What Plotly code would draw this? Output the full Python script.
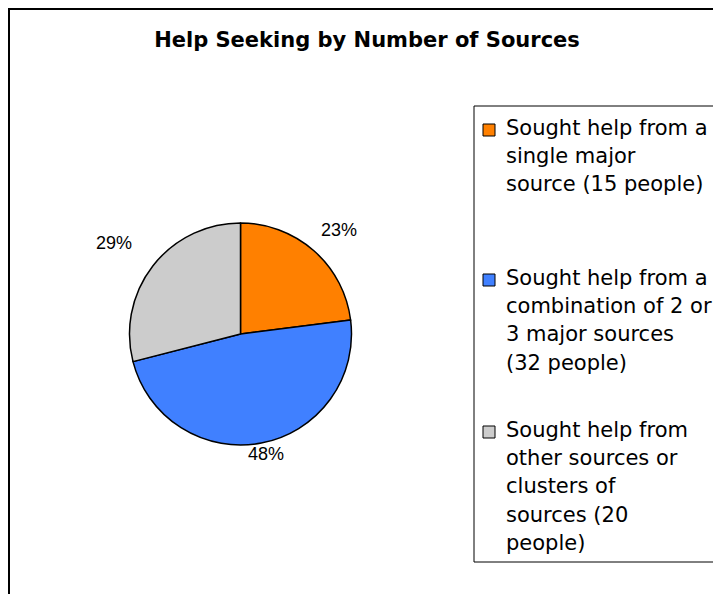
import math
import plotly.graph_objects as go

# ---- data ----
categories = [
    "Sought help from a single major source (15 people)",
    "Sought help from a combination of 2 or 3 major sources (32 people)",
    "Sought help from other sources or clusters of sources (20 people)",
]
people = [15, 32, 20]
percent = [23, 48, 29]
pct_labels = ["23%", "48%", "29%"]
legend_lines = [
    ["Sought help from a", "single major", "source (15 people)"],
    ["Sought help from a", "combination of 2 or", "3 major sources", "(32 people)"],
    ["Sought help from", "other sources or", "clusters of", "sources (20", "people)"],
]
colors = ["#FF8000", "#4080FF", "#CCCCCC"]
title = "Help Seeking by Number of Sources"

# ---- layout helpers (page body has an 8px margin) ----
OFF = 8
W, H = 721 - OFF, 594 - OFF


def px(x):
    return (x - OFF) / W


def py(y):
    return 1 - (y - OFF) / H


# pie geometry (reference pixels)
cx, cy, r = 240.5, 334.0, 111.0
label_gap = [33, 17, 43]   # distance of % labels beyond the pie edge
ell_x, ell_y = 1.05, 0.95  # label ring slightly wider than tall

fig = go.Figure()
fig.add_trace(go.Pie(
    labels=categories,
    values=percent,
    text=pct_labels,
    textinfo="none",
    marker=dict(colors=colors, line=dict(color="black", width=1.5)),
    sort=False,
    direction="clockwise",
    rotation=0,
    showlegend=False,
    hoverinfo="label+value",
    domain=dict(x=[px(cx - r), px(cx + r)], y=[py(cy + r), py(cy - r)]),
))

shapes = []
annotations = []

# percentage labels at each slice's mid-angle
total = sum(percent)
cum = 0
for i, v in enumerate(percent):
    theta = 2 * math.pi * (cum + v / 2) / total
    cum += v
    lx = cx + (r * ell_x + label_gap[i]) * math.sin(theta)
    ly = cy - (r * ell_y + label_gap[i]) * math.cos(theta)
    annotations.append(dict(
        text=pct_labels[i], xref="paper", yref="paper",
        x=px(lx), y=py(ly), xanchor="center", yanchor="middle",
        showarrow=False,
        font=dict(family="Liberation Sans, Arial", size=18, color="black"),
    ))

# outer frame (extends past the right and bottom edges)
shapes.append(dict(type="rect", xref="paper", yref="paper",
                   x0=px(9), x1=px(740), y0=py(610), y1=py(9),
                   line=dict(color="black", width=2)))

# legend box
shapes.append(dict(type="rect", xref="paper", yref="paper",
                   x0=px(474), x1=px(719), y0=py(562), y1=py(106),
                   line=dict(color="black", width=1), fillcolor="white"))

first_baselines = [135, 285, 437]
line_gap = 28.2
for i, lines in enumerate(legend_lines):
    b0 = first_baselines[i]
    shapes.append(dict(type="rect", xref="paper", yref="paper",
                       x0=px(483), x1=px(495), y0=py(b0 + 1), y1=py(b0 - 11),
                       line=dict(color="black", width=1), fillcolor=colors[i]))
    for j, txt in enumerate(lines):
        base = b0 + j * line_gap
        annotations.append(dict(
            text=txt, xref="paper", yref="paper",
            x=px(504), y=py(base - 7), xanchor="left", yanchor="middle",
            showarrow=False, align="left",
            font=dict(family="DejaVu Sans", size=21, color="black"),
        ))

fig.update_layout(
    width=W, height=H,
    margin=dict(l=0, r=0, t=0, b=0),
    paper_bgcolor="white",
    plot_bgcolor="white",
    title=dict(text="<b>" + title + "</b>", x=px(367), xanchor="center",
               y=py(40), yanchor="middle",
               font=dict(family="DejaVu Sans", size=21, color="black")),
    shapes=shapes,
    annotations=annotations,
)

fig.write_html("out.html")
